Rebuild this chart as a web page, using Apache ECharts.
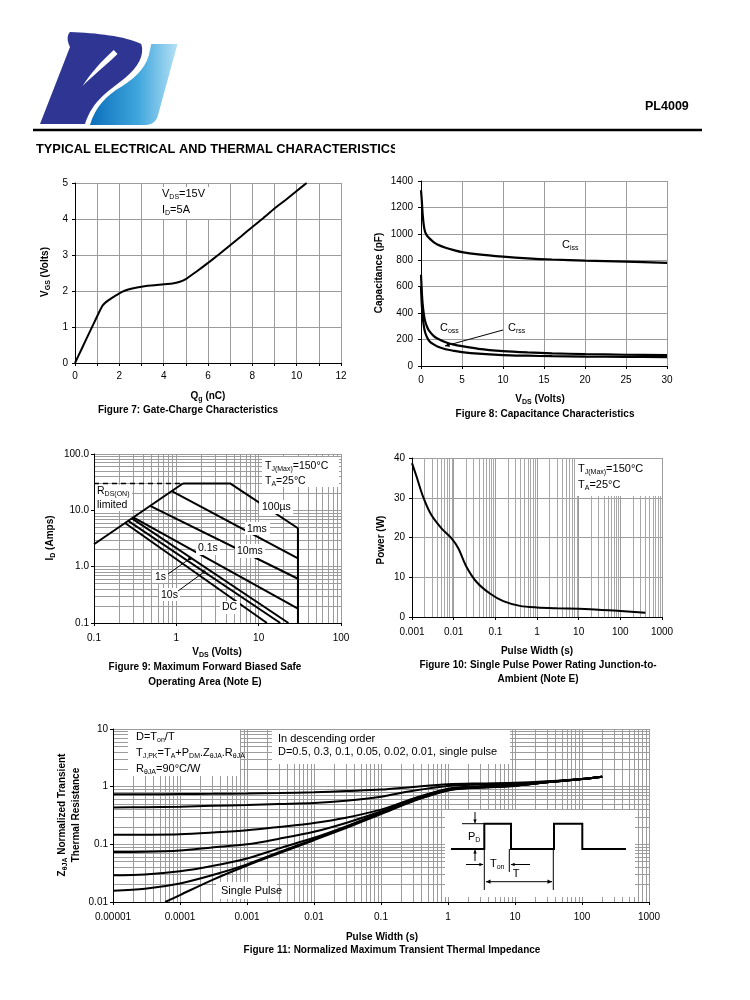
<!DOCTYPE html>
<html><head><meta charset="utf-8">
<script src="https://cdn.jsdelivr.net/npm/echarts@6/dist/echarts.min.js"></script>
<style>html,body{margin:0;padding:0;background:#fff}#c{width:750px;height:1000px}</style>
</head><body><div id="c"></div>
<script>
// ---------- Figure 7: gate charge ----------
const gcQg  = [0, 0.3, 0.6, 1.0, 1.25, 1.5, 1.8, 2.1, 2.4, 2.8, 3.2, 3.6, 4.0, 4.4, 4.7, 5.0, 5.5, 6.0, 6.5, 7.0, 7.5, 8.0, 8.5, 9.0, 9.5, 10.0, 10.45];
const gcVgs = [0, 0.39, 0.78, 1.30, 1.60, 1.74, 1.86, 1.97, 2.04, 2.10, 2.14, 2.16, 2.19, 2.21, 2.25, 2.33, 2.55, 2.78, 3.02, 3.27, 3.52, 3.78, 4.03, 4.29, 4.53, 4.78, 5.0];
// ---------- Figure 8: capacitance ----------
const capVds  = [0, 0.1, 0.2, 0.35, 0.5, 0.75, 1, 1.5, 2, 3, 4, 5, 7, 10, 13, 16, 20, 25, 30];
const capCiss = [1330, 1250, 1150, 1060, 1015, 985, 968, 940, 920, 895, 877, 862, 845, 828, 815, 806, 798, 790, 780];
const capCoss = [690, 560, 470, 390, 340, 295, 265, 230, 208, 180, 162, 150, 130, 113, 103, 96, 90, 85, 82];
const capCrss = [600, 460, 380, 300, 255, 215, 190, 165, 148, 127, 115, 105, 93, 83, 78, 74, 71, 69, 67];
// ---------- Figure 9: SOA ----------
const soaRdsV = [0.1, 1.2],            soaRdsI = [2.5, 30];
const soaLimV = [0.1, 1.2],            soaLimI = [30, 30];
const soa100usV = [1.2, 4.5, 30, 30],  soa100usI = [30, 30, 4.8, 0.1];
const soa1msV = [0.88, 30],            soa1msI = [22, 1.4];
const soa10msV = [0.48, 30],           soa10msI = [12, 0.61];
const soa01sV = [0.30, 30],            soa01sI = [7.5, 0.18];
const soa1sV = [0.288, 23],            soa1sI = [7.2, 0.1];
const soa10sV = [0.26, 18.3],          soa10sI = [6.5, 0.1];
const soaDcV = [0.238, 12.6],          soaDcI = [5.95, 0.1];
const fig9XLabels = ['0.1', '1', '10', '100'];
const fig9YLabels = ['0.1', '1.0', '10.0', '100.0'];
// ---------- Figure 10: single pulse power ----------
const ppWidth = [0.001, 0.00128, 0.00184, 0.0029, 0.0051, 0.0089, 0.0129, 0.0204, 0.0355, 0.074, 0.155, 0.39, 1, 3, 10, 30, 100, 400];
const ppPower = [38.7, 35.4, 30.3, 25.7, 22.3, 19.8, 17.3, 12.6, 8.8, 5.9, 4.0, 2.8, 2.4, 2.2, 2.05, 1.85, 1.5, 1.1];
const fig10XLabels = ['0.001', '0.01', '0.1', '1', '10', '100', '1000'];
// ---------- Figure 11: transient thermal impedance ----------
const ztWidth = [1e-5, 3e-5, 1e-4, 3e-4, 1e-3, 3e-3, 1e-2, 3e-2, 0.1, 0.3, 1, 3, 10, 30, 100, 200];
const ztD050 = [0.74, 0.74, 0.745, 0.75, 0.76, 0.775, 0.80, 0.84, 0.89, 0.99, 1.10, 1.14, 1.17, 1.24, 1.36, 1.49];
const ztD030 = [0.435, 0.44, 0.45, 0.465, 0.48, 0.50, 0.52, 0.57, 0.67, 0.85, 1.03, 1.09, 1.13, 1.22, 1.36, 1.49];
const ztD010 = [0.146, 0.147, 0.15, 0.16, 0.175, 0.20, 0.235, 0.29, 0.40, 0.62, 0.92, 1.02, 1.08, 1.20, 1.36, 1.49];
const ztD005 = [0.0733, 0.074, 0.078, 0.088, 0.10, 0.125, 0.165, 0.235, 0.37, 0.60, 0.90, 1.00, 1.06, 1.19, 1.36, 1.49];
const ztD002 = [0.029, 0.030, 0.034, 0.042, 0.057, 0.085, 0.13, 0.205, 0.355, 0.58, 0.88, 0.98, 1.05, 1.19, 1.36, 1.49];
const ztD001 = [0.0157, 0.017, 0.021, 0.029, 0.045, 0.073, 0.122, 0.198, 0.345, 0.57, 0.87, 0.97, 1.04, 1.19, 1.36, 1.49];
const ztSingleWidth = [6e-5, 1e-4, 3e-4, 1e-3, 3e-3, 1e-2, 3e-2, 0.1, 0.3, 1, 3, 10, 30, 100, 200];
const ztSingle      = [0.01, 0.0132, 0.024, 0.043, 0.07, 0.118, 0.192, 0.335, 0.56, 0.86, 0.96, 1.03, 1.19, 1.36, 1.49];
const fig11XLabels = ['0.00001', '0.0001', '0.001', '0.01', '0.1', '1', '10', '100', '1000'];
const fig11YLabels = ['0.01', '0.1', '1', '10'];

// ---------------------------------------------------------------
const FONT = "'Liberation Sans', Arial, Helvetica, sans-serif";
const GRID_C = '#9c9c9c';
const zip = (a, b) => a.map((v, i) => [v, b[i]]);
const lg = v => Math.round(Math.log10(v));
const plain = v => String(v);

function baseAxis(gi, o) {
  return Object.assign({
    gridIndex: gi,
    axisLine: { show: true, onZero: false, lineStyle: { color: '#000', width: 1 } },
    axisTick: { show: true, length: 3, inside: false, lineStyle: { color: '#000' } },
    axisLabel: { color: '#000', fontFamily: FONT, fontSize: 10, formatter: plain },
    splitLine: { show: true, lineStyle: { color: GRID_C, width: 1 } },
    nameTextStyle: { fontSize: 0 }
  }, o);
}
function logAxis(gi, min, max, o) {
  return baseAxis(gi, Object.assign({
    type: 'log', logBase: 10, min, max,
    minorTick: { show: false, splitNumber: 9 },
    minorSplitLine: { show: true, lineStyle: { color: GRID_C, width: 1 } }
  }, o));
}
function lab(margin, formatter) {
  return { color: '#000', fontFamily: FONT, fontSize: 10, margin, formatter: formatter || plain };
}
function line(xi, xs, ys, extra) {
  return Object.assign({
    type: 'line', xAxisIndex: xi, yAxisIndex: xi, data: zip(xs, ys),
    showSymbol: false, symbol: 'none', silent: true, animation: false,
    lineStyle: { color: '#000', width: 2 }
  }, extra || {});
}

function richStr(s) {
  let out = '', re = /_\{([^}]*)\}/g, last = 0, m;
  while ((m = re.exec(s))) {
    if (m.index > last) out += '{n|' + s.slice(last, m.index) + '}';
    out += '{s|' + m[1] + '}';
    last = re.lastIndex;
  }
  if (last < s.length) out += '{n|' + s.slice(last) + '}';
  return out;
}
function richSet(fs, bold) {
  const w = bold ? 'bold' : 'normal';
  return {
    n: { fontFamily: FONT, fontSize: fs, fontWeight: w, lineHeight: fs + 3, verticalAlign: 'middle', fill: '#000', color: '#000' },
    s: { fontFamily: FONT, fontSize: Math.round(fs * 0.68), fontWeight: w, lineHeight: 6, verticalAlign: 'bottom', fill: '#000', color: '#000' }
  };
}
function T(x, y, s, o) {
  o = o || {};
  const fs = o.fs || 11, bold = !!o.bold;
  const hasSub = s.indexOf('_{') >= 0;
  const el = {
    type: 'text', z: o.z || 120, x, y, rotation: o.rot || 0, silent: true,
    style: {
      text: hasSub ? richStr(s) : s,
      font: (bold ? 'bold ' : '') + fs + 'px ' + FONT,
      fill: '#000',
      textAlign: o.align || 'left', align: o.align || 'left',
      textVerticalAlign: 'middle', verticalAlign: 'middle'
    }
  };
  if (hasSub) el.style.rich = richSet(fs, bold);
  return el;
}
function box(x1, y1, x2, y2, z) {
  return { type: 'rect', z: z || 100, silent: true, shape: { x: x1, y: y1, width: x2 - x1, height: y2 - y1 }, style: { fill: '#fff' } };
}
function seg(x1, y1, x2, y2, w, z) {
  return { type: 'line', z: z || 120, silent: true, shape: { x1, y1, x2, y2 }, style: { stroke: '#000', lineWidth: w || 1 } };
}
function head(x1, y1, x2, y2, size) {
  size = size || 4;
  const a = Math.atan2(y2 - y1, x2 - x1), b = 0.45;
  return { type: 'polygon', z: 121, silent: true, shape: { points: [[x2, y2],
    [x2 - size * Math.cos(a - b), y2 - size * Math.sin(a - b)],
    [x2 - size * Math.cos(a + b), y2 - size * Math.sin(a + b)]] }, style: { fill: '#000' } };
}
function arrow(x1, y1, x2, y2, size, w) { return [seg(x1, y1, x2, y2, w || 1), head(x1, y1, x2, y2, size)]; }

// logo shapes
let logoOK = true;
try {
  echarts.graphic.registerShape('logoDark', echarts.graphic.extendPath(
    'M40 124 L64 47 C62 42 61 36 64 32 C85 33 108 36 121 44 C124 55 118 68 108 78 C96 90 82 100 76 124 Z', {}));
  echarts.graphic.registerShape('logoNotch', echarts.graphic.extendPath(
    'M99 50 L102 54 C92 66 82 76 74 86 C80 74 90 60 99 50 Z', {}));
  echarts.graphic.registerShape('logoLight', echarts.graphic.extendPath(
    'M80 125 C84 108 92 96 106 86 C118 76 126 66 128 50 L129 44 L150 44 L134 117 Q132 124 125 125 Z', {}));
} catch (e) { logoOK = false; }

const graphics = [];
if (logoOK) {
  const lt = { scaleX: 1.25, scaleY: 1.0, originX: 40, originY: 124 };
  graphics.push(Object.assign({ type: 'logoDark', z: 10, silent: true, shape: {}, style: { fill: '#2E3592' } }, lt));
  graphics.push(Object.assign({ type: 'logoNotch', z: 11, silent: true, shape: {}, style: { fill: '#fff' } }, lt));
  graphics.push(Object.assign({ type: 'logoLight', z: 10, silent: true, shape: {}, style: { fill: {
    type: 'linear', x: 0, y: 0, x2: 1, y2: 0, colorStops: [{ offset: 0, color: '#0B6FBA' }, { offset: 0.55, color: '#3FA6DD' }, { offset: 1, color: '#B5E1F5' }] } } }, lt));
}
// ---- header ----
graphics.push(T(645, 107, 'PL4009', { bold: true, fs: 12.5 }));
graphics.push(seg(33, 130, 702, 130, 2.5, 50));
graphics.push(T(36, 149, 'TYPICAL ELECTRICAL AND THERMAL CHARACTERISTICS', { bold: true, fs: 12.8 }));
graphics.push(box(395, 140, 415, 160, 130));

// ---- Figure 7 annotations ----
graphics.push(box(158, 187, 215, 219));
graphics.push(T(162, 194, 'V_{DS}=15V'));
graphics.push(T(162, 210, 'I_{D}=5A'));
graphics.push(T(45, 272, 'V_{GS} (Volts)', { bold: true, fs: 10, align: 'center', rot: Math.PI / 2 }));
graphics.push(T(208, 396, 'Q_{g} (nC)', { bold: true, fs: 10, align: 'center' }));
graphics.push(T(188, 410, 'Figure 7: Gate-Charge Characteristics', { bold: true, fs: 10, align: 'center' }));

// ---- Figure 8 annotations ----
graphics.push(T(562, 245, 'C_{iss}'));
graphics.push(T(440, 328, 'C_{oss}'));
graphics.push(T(508, 328, 'C_{rss}'));
graphics.push(...arrow(503, 330, 445, 346, 5));
graphics.push(T(379, 273, 'Capacitance (pF)', { bold: true, fs: 10, align: 'center', rot: Math.PI / 2 }));
graphics.push(T(540, 399, 'V_{DS} (Volts)', { bold: true, fs: 10, align: 'center' }));
graphics.push(T(545, 414, 'Figure 8: Capacitance Characteristics', { bold: true, fs: 10, align: 'center' }));

// ---- Figure 9 annotations ----
graphics.push(box(262, 457, 339, 487));
graphics.push(T(265, 466, 'T_{J(Max)}=150°C', { fs: 10.5 }));
graphics.push(T(265, 481, 'T_{A}=25°C', { fs: 10.5 }));
graphics.push(box(95, 485, 132, 511));
graphics.push(T(97, 491, 'R_{DS(ON)}', { fs: 10.5 }));
graphics.push(T(97, 505, 'limited', { fs: 10.5 }));
graphics.push(box(259, 500, 293, 514));
graphics.push(T(262, 507, '100µs', { fs: 10.5 }));
graphics.push(box(245, 522, 270, 535));
graphics.push(T(247, 529, '1ms', { fs: 10.5 }));
graphics.push(box(235, 544, 265, 558));
graphics.push(T(237, 551, '10ms', { fs: 10.5 }));
graphics.push(box(196, 541, 220, 555));
graphics.push(T(198, 548, '0.1s', { fs: 10.5 }));
graphics.push(box(152, 570, 168, 583));
graphics.push(T(155, 577, '1s', { fs: 10.5 }));
graphics.push(box(159, 588, 180, 601));
graphics.push(T(161, 595, '10s', { fs: 10.5 }));
graphics.push(box(220, 601, 240, 614));
graphics.push(T(222, 607, 'DC', { fs: 10.5 }));
graphics.push(seg(168, 574, 190, 558.5, 1));
graphics.push({ type: 'circle', z: 121, silent: true, shape: { cx: 190, cy: 558.5, r: 1.8 }, style: { fill: '#000' } });
graphics.push(seg(178, 591, 204, 572, 1));
graphics.push({ type: 'circle', z: 121, silent: true, shape: { cx: 204, cy: 572, r: 1.8 }, style: { fill: '#000' } });
graphics.push(T(50, 538, 'I_{D} (Amps)', { bold: true, fs: 10, align: 'center', rot: Math.PI / 2 }));
graphics.push(T(217, 652, 'V_{DS} (Volts)', { bold: true, fs: 10, align: 'center' }));
graphics.push(T(205, 667, 'Figure 9: Maximum Forward Biased Safe', { bold: true, fs: 10, align: 'center' }));
graphics.push(T(205, 682, 'Operating Area (Note E)', { bold: true, fs: 10, align: 'center' }));

// ---- Figure 10 annotations ----
graphics.push(box(575, 459, 661, 496));
graphics.push(T(578, 469, 'T_{J(Max)}=150°C'));
graphics.push(T(578, 485, 'T_{A}=25°C'));
graphics.push(T(381, 540, 'Power (W)', { bold: true, fs: 10, align: 'center', rot: Math.PI / 2 }));
graphics.push(T(537, 651, 'Pulse Width (s)', { bold: true, fs: 10, align: 'center' }));
graphics.push(T(538, 665, 'Figure 10: Single Pulse Power Rating Junction-to-', { bold: true, fs: 10, align: 'center' }));
graphics.push(T(538, 679, 'Ambient (Note E)', { bold: true, fs: 10, align: 'center' }));

// ---- Figure 11 annotations ----
graphics.push(box(128, 730, 240, 776));
graphics.push(T(136, 737, 'D=T_{on}/T'));
graphics.push(T(136, 753, 'T_{J,PK}=T_{A}+P_{DM}.Z_{θJA}.R_{θJA}'));
graphics.push(T(136, 769, 'R_{θJA}=90°C/W'));
graphics.push(box(272, 730, 510, 764));
graphics.push(T(278, 739, 'In descending order'));
graphics.push(T(278, 752, 'D=0.5, 0.3, 0.1, 0.05, 0.02, 0.01, single pulse'));
graphics.push(box(216, 882, 277, 899));
graphics.push(T(221, 891, 'Single Pulse'));
graphics.push(box(445, 810, 635, 897));
graphics.push({ type: 'polyline', z: 120, silent: true, shape: { points: [[451, 849], [484.3, 849], [484.3, 823.7], [511, 823.7], [511, 849], [554, 849], [554, 823.7], [582.3, 823.7], [582.3, 849], [626, 849]] }, style: { stroke: '#000', lineWidth: 2, fill: null } });
graphics.push(seg(462, 823.7, 484, 823.7, 1));
graphics.push(...arrow(475, 812, 475, 823, 4));
graphics.push(...arrow(475, 861, 475, 850, 4));
graphics.push(T(468, 837, 'P_{D}'));
graphics.push(seg(484.3, 849, 484.3, 890, 1));
graphics.push(seg(509.3, 849, 509.3, 872, 1));
graphics.push(seg(553.3, 849, 553.3, 890, 1));
graphics.push(...arrow(466, 864.5, 483, 864.5, 4));
graphics.push(...arrow(530, 864.5, 511, 864.5, 4));
graphics.push(T(490, 864, 'T_{on}'));
graphics.push(seg(486, 881.7, 552, 881.7, 1));
graphics.push(head(552, 881.7, 486, 881.7, 5));
graphics.push(head(486, 881.7, 552, 881.7, 5));
graphics.push(T(516, 874, 'T', { align: 'center' }));
graphics.push(T(62, 815, 'Z_{θJA} Normalized Transient', { bold: true, fs: 10, align: 'center', rot: Math.PI / 2 }));
graphics.push(T(76, 815, 'Thermal Resistance', { bold: true, fs: 10, align: 'center', rot: Math.PI / 2 }));
graphics.push(T(382, 937, 'Pulse Width (s)', { bold: true, fs: 10, align: 'center' }));
graphics.push(T(392, 950, 'Figure 11: Normalized Maximum Transient Thermal Impedance', { bold: true, fs: 10, align: 'center' }));

const grids = [
  { left: 75, top: 183, width: 266, height: 180 },
  { left: 421, top: 181, width: 246, height: 185 },
  { left: 94, top: 454, width: 247, height: 169 },
  { left: 412, top: 458, width: 250, height: 159 },
  { left: 113, top: 729, width: 536, height: 173 }
].map(g => Object.assign({ containLabel: false, show: false }, g));

const option = {
  animation: false,
  backgroundColor: '#fff',
  grid: grids,
  xAxis: [
    baseAxis(0, { type: 'value', min: 0, max: 12, interval: 1, axisLabel: lab(8, v => (v % 2 === 0 ? String(v) : '')) }),
    baseAxis(1, { type: 'value', min: 0, max: 30, interval: 5, axisLabel: lab(9) }),
    logAxis(2, 0.1, 100, { axisLabel: lab(10, v => fig9XLabels[lg(v) + 1]) }),
    logAxis(3, 0.001, 1000, { minorSplitLine: { show: true, lineStyle: { color: '#a8a8a8', width: 1 } }, axisLabel: lab(10, v => fig10XLabels[lg(v) + 3]) }),
    logAxis(4, 1e-5, 1000, { axisLabel: lab(10, v => fig11XLabels[lg(v) + 5]) })
  ],
  yAxis: [
    baseAxis(0, { type: 'value', min: 0, max: 5, interval: 1, axisLabel: lab(7) }),
    baseAxis(1, { type: 'value', min: 0, max: 1400, interval: 200, axisLabel: lab(8) }),
    logAxis(2, 0.1, 100, { axisLabel: lab(5, v => fig9YLabels[lg(v) + 1]) }),
    baseAxis(3, { type: 'value', min: 0, max: 40, interval: 10, axisLabel: lab(7) }),
    logAxis(4, 0.01, 10, { axisLabel: lab(5, v => fig11YLabels[lg(v) + 2]) })
  ],
  series: [
    line(0, gcQg, gcVgs, { smooth: 0.2 }),
    line(1, capVds, capCiss, { smooth: 0.3, lineStyle: { color: '#000', width: 2.2 } }),
    line(1, capVds, capCoss, { smooth: 0.3, lineStyle: { color: '#000', width: 2.2 } }),
    line(1, capVds, capCrss, { smooth: 0.3, lineStyle: { color: '#000', width: 2.2 } }),
    line(2, soaLimV, soaLimI, { lineStyle: { color: '#000', width: 1.5, type: [5, 4] } }),
    line(2, soaRdsV, soaRdsI),
    line(2, soa100usV, soa100usI),
    line(2, soa1msV, soa1msI),
    line(2, soa10msV, soa10msI),
    line(2, soa01sV, soa01sI),
    line(2, soa1sV, soa1sI),
    line(2, soa10sV, soa10sI),
    line(2, soaDcV, soaDcI),
    line(3, ppWidth, ppPower, { smooth: 0.3 }),
    line(4, ztWidth, ztD050, { smooth: 0.3 }),
    line(4, ztWidth, ztD030, { smooth: 0.3 }),
    line(4, ztWidth, ztD010, { smooth: 0.3 }),
    line(4, ztWidth, ztD005, { smooth: 0.3 }),
    line(4, ztWidth, ztD002, { smooth: 0.3 }),
    line(4, ztWidth, ztD001, { smooth: 0.3 }),
    line(4, ztSingleWidth, ztSingle, { smooth: 0.3 })
  ],
  graphic: { elements: graphics }
};
const chart = echarts.init(document.getElementById('c'), null, { renderer: 'canvas' });
try {
  chart.setOption(option);
} catch (err) {
  console.error('setOption failed: ' + err.message);
  option.graphic.elements = graphics.filter(g => ['logoDark', 'logoNotch', 'logoLight'].indexOf(g.type) < 0);
  chart.setOption(option, true);
}
</script>
</body></html>
